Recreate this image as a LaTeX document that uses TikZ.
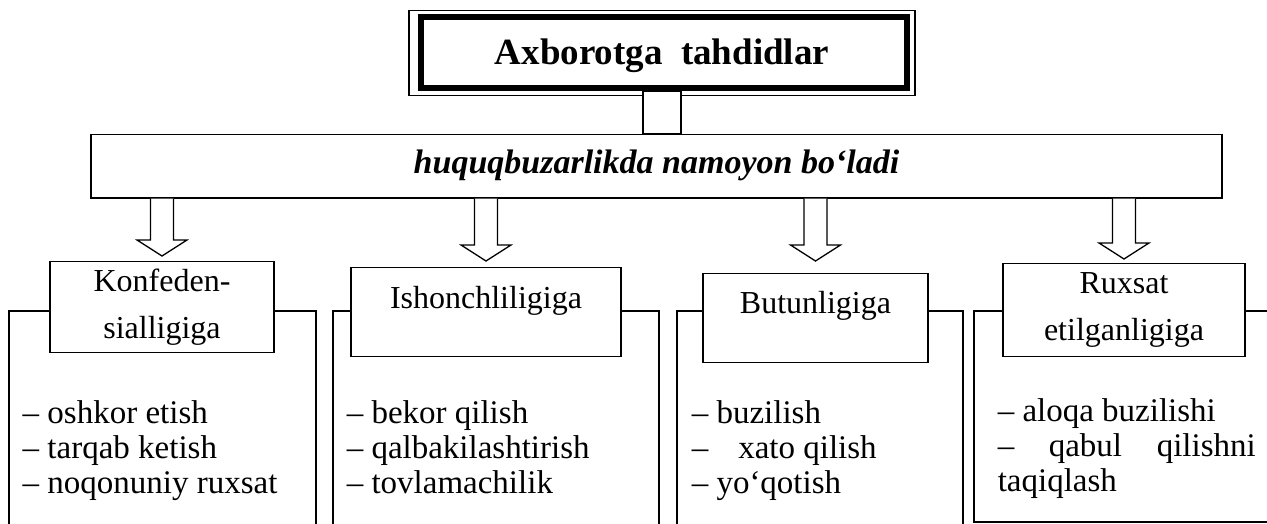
\documentclass[tikz,border=0pt]{standalone}
\usepackage{fontspec}
\setmainfont{Liberation Serif}
\usetikzlibrary{calc,positioning}

% hollow block arrow: start, end, gap before the end
\newcommand{\hollowarrow}[3]{%
  \draw[blockarrow] let \p1=(#1), \p2=(#2) in
    (\x1-11.5pt,\y1) -- (\x1-11.5pt,\y2+#3pt+16pt) -- (\x1-25pt,\y2+#3pt+16pt)
    -- (\x1,\y2+#3pt) -- (\x1+25pt,\y2+#3pt+16pt) -- (\x1+11.5pt,\y2+#3pt+16pt)
    -- (\x1+11.5pt,\y1);
}

\begin{document}
\begin{tikzpicture}[x=1pt, y=-1pt,
  titlebox/.style={draw, line width=1.3pt, fill=white, minimum width=506pt,
    inner sep=0pt, font=\fontsize{37}{40}\selectfont\bfseries},
  mainbox/.style={draw, line width=1.5pt, fill=white, minimum width=1131pt,
    inner sep=0pt, font=\fontsize{34}{36}\selectfont\bfseries\itshape},
  kind/.style={draw, line width=1.3pt, fill=white, anchor=north,
    inner sep=0pt, font=\fontsize{32}{47}\selectfont},
  listbox/.style={draw, line width=1.5pt, anchor=north west, inner xsep=14pt,
    inner ysep=0pt, text height=113pt, text depth=117pt,
    font=\fontsize{33}{35}\selectfont},
  blockarrow/.style={draw, line width=1.3pt, fill=white, line join=miter}
]
\useasboundingbox (0,0) rectangle (1267,524);
\clip (0,0) rectangle (1267,524);

% Lists
\node[listbox] (list1) at (8,310)
  {\parbox[t]{279pt}{\raggedright – oshkor etish\\– tarqab ketish\\– noqonuniy ruxsat}};
\node[listbox] (list2) at (332,310)
  {\parbox[t]{298pt}{\raggedright – bekor qilish\\– qalbakilashtirish\\– tovlamachilik}};
\node[listbox, inner xsep=15pt] (list3) at (676,310)
  {\parbox[t]{256pt}{\raggedright – buzilish\\–\hspace{30pt}xato qilish\\– yo‘qotish}};
\node[listbox, inner xsep=24pt, text height=111pt, text depth=100pt] (list4) at (973,310)
  {\parbox[t]{258pt}{– aloqa buzilishi\\–\hfill qabul\hfill qilishni\\taqiqlash}};

% Kinds of threats
\node[kind, minimum width=224pt, text height=30pt, text depth=61pt] (konf) at (162,261)
  {\parbox[t]{224pt}{\centering Konfeden-\\sialligiga}};
\node[kind, minimum width=270pt, text height=41pt, text depth=48pt] (ishon) at (486,267)
  {\parbox[t]{270pt}{\centering Ishonchliligiga}};
\node[kind, minimum width=225pt, text height=40pt, text depth=49pt] (butun) at (815.5,273)
  {\parbox[t]{225pt}{\centering Butunligiga}};
\node[kind, minimum width=242pt, text height=30pt, text depth=63pt] (ruxsat) at (1124,263)
  {\parbox[t]{242pt}{\centering Ruxsat\\etilganligiga}};

% Middle box
\node[mainbox, anchor=north, text height=39pt, text depth=24pt] (wide) at (656.5,134)
  {huquqbuzarlikda namoyon bo‘ladi};

% Arrows
\foreach \b/\g in {konf/5, ishon/6, butun/12, ruxsat/4}
  \hollowarrow{wide.south -| \b.north}{\b.north}{\g};

% Title
\node[titlebox, anchor=north, text height=54pt, text depth=31pt] (title) at (662,10)
  {Axborotga~~tahdidlar};
\draw[line width=6pt] ([shift={(13,7)}]title.north west)
  rectangle ([shift={(-9,-8)}]title.south east);
\draw[line width=1.3pt, fill=white] ($(title.south)+(-19,-5)$)
  rectangle ($(wide.north -| title.south)+(19,0)$);
\end{tikzpicture}
\end{document}
